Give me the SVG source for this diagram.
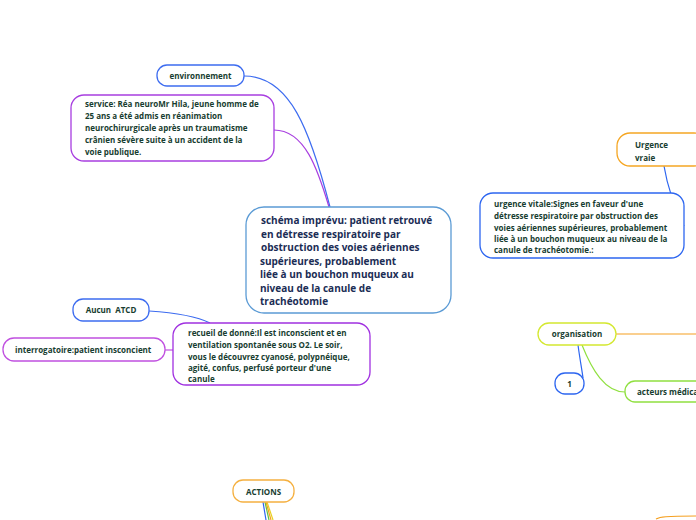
<svg xmlns="http://www.w3.org/2000/svg" width="696" height="520" viewBox="0 0 696 520">
<style>
.n{fill:#fff;stroke-width:1.3}
.t{font-family:"Open Sans","Noto Sans",sans-serif;font-weight:bold;font-size:8px;fill:#173d30}
.m{font-family:"Open Sans","Noto Sans",sans-serif;font-weight:bold;font-size:10px;fill:#1b2d55}
.c{fill:none;stroke-width:1.2}
</style>
<rect width="696" height="520" fill="#fff"/>
<g id="connectors">
<path class="c" stroke="#3d6cf0" d="M244,76 C290,76 310,130 330,207"/>
<path class="c" stroke="#a83ee0" d="M274,130 C305,130 318,170 329,207"/>
<path class="c" stroke="#2d66f0" d="M664,166 C668,190 676,210 684,226"/>
<path class="c" stroke="#3d6cf0" d="M149,311 C180,313 200,318 210,323"/>
<path class="c" stroke="#c050e0" d="M165,350 L173,350"/>
<path class="c" stroke="#f5a020" d="M616,334 L696,334"/>
<path class="c" stroke="#2d66f0" stroke-width="1.6" d="M578,345 C580,360 582,370 583,378"/>
<path class="c" stroke="#90e040" d="M582,345 C592,370 605,392 625,392"/>
<path class="c" stroke="#2d66f0" stroke-width="1.6" d="M263,502 L266,520"/>
<path class="c" stroke="#60c040" stroke-width="1.4" d="M265,502 L269,520"/>
<path class="c" stroke="#f5a020" stroke-width="1.4" d="M266,502 L271,520"/>
<path class="c" stroke="#e8d020" stroke-width="1.2" d="M267,502 L273,520"/>
<path class="c" stroke="#f5a020" stroke-width="1.4" d="M656,519 C660,517 665,516 696,516"/>
</g>
<g id="environnement"><rect class="n" x="157" y="65" width="87" height="21" rx="10" stroke="#3d6cf0"/><text class="t" x="200.5" y="78.5" text-anchor="middle">environnement</text></g>
<g id="service"><rect class="n" x="71" y="95" width="203" height="66" rx="13" stroke="#a83ee0"/>
<text class="t" x="85" y="107">service: Réa neuroMr Hila, jeune homme de</text>
<text class="t" x="85" y="119">25 ans a été admis en réanimation</text>
<text class="t" x="85" y="131">neurochirurgicale après un traumatisme</text>
<text class="t" x="85" y="143">crânien sévère suite à un accident de la</text>
<text class="t" x="85" y="155">voie publique.</text></g>
<g id="main"><rect class="n" x="246" y="207" width="205" height="106" rx="18" stroke="#5b9bd5"/>
<text class="m" x="261" y="224">schéma imprévu: patient retrouvé</text>
<text class="m" x="261" y="237.5">en détresse respiratoire par</text>
<text class="m" x="261" y="251">obstruction des voies aériennes</text>
<text class="m" x="260" y="264.5">supérieures, probablement</text>
<text class="m" x="260" y="278">liée à un bouchon muqueux au</text>
<text class="m" x="260" y="291.5">niveau de la canule de</text>
<text class="m" x="260" y="305">trachéotomie</text></g>
<g id="urgence-vraie"><rect class="n" x="617" y="133" width="90" height="33" rx="13" stroke="#f5a623"/>
<text class="t" x="635" y="148">Urgence</text><text class="t" x="635" y="161">vraie</text></g>
<g id="urgence-vitale"><rect class="n" x="480" y="193" width="204" height="65" rx="13" stroke="#2d66f0"/>
<text class="t" x="494" y="207">urgence vitale:Signes en faveur d'une</text>
<text class="t" x="494" y="219">détresse respiratoire par obstruction des</text>
<text class="t" x="494" y="231">voies aériennes supérieures, probablement</text>
<text class="t" x="494" y="242">liée à un bouchon muqueux au niveau de la</text>
<text class="t" x="494" y="253">canule de trachéotomie.:</text></g>
<g id="aucun-atcd"><rect class="n" x="73" y="299" width="76" height="22" rx="10" stroke="#3d6cf0"/><text class="t" x="111" y="313" text-anchor="middle" style="white-space:pre">Aucun  ATCD</text></g>
<g id="interrogatoire"><rect class="n" x="3" y="338" width="162" height="23" rx="11" stroke="#c050e0"/><text class="t" x="15" y="353">interrogatoire:patient insconcient</text></g>
<g id="recueil"><rect class="n" x="173" y="323" width="197" height="62" rx="13" stroke="#a030e0"/>
<text class="t" x="188" y="336">recueil de donné:Il est inconscient et en</text>
<text class="t" x="188" y="348">ventilation spontanée sous O2. Le soir,</text>
<text class="t" x="188" y="360">vous le découvrez cyanosé, polypnéique,</text>
<text class="t" x="188" y="371">agité, confus, perfusé porteur d'une</text>
<text class="t" x="188" y="382">canule</text></g>
<g id="organisation"><rect class="n" x="538" y="323" width="78" height="22" rx="11" stroke="#d4e830"/><text class="t" x="577" y="337" text-anchor="middle">organisation</text></g>
<g id="n1"><rect class="n" x="555" y="373" width="29" height="21" rx="10" stroke="#2d66f0"/><text class="t" x="569.5" y="387" text-anchor="middle">1</text></g>
<g id="acteurs"><rect class="n" x="625" y="381" width="90" height="21" rx="10" stroke="#90e040"/><text class="t" x="637" y="395">acteurs médica</text></g>
<g id="actions"><rect class="n" x="233" y="480" width="61" height="22" rx="10" stroke="#f5b040"/><text class="t" x="263.5" y="494.5" text-anchor="middle">ACTIONS</text></g>
</svg>
